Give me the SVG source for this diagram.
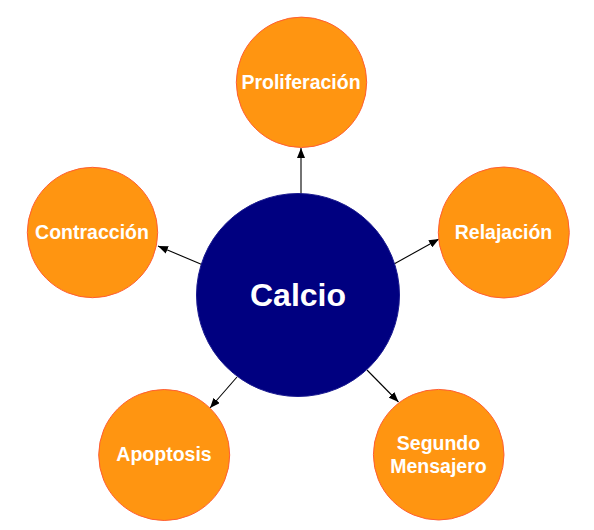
<svg xmlns="http://www.w3.org/2000/svg" width="594" height="530" viewBox="0 0 594 530">
<defs>
<marker id="ah" viewBox="0 0 10 8" refX="10" refY="4" markerWidth="10" markerHeight="8" markerUnits="userSpaceOnUse" orient="auto">
<path d="M0,0 L10,4 L0,8 Z" fill="#000"/>
</marker>
<style>
.sat{fill:#FF9511;stroke:#FF5E33;stroke-width:1}
.hub{fill:#000080;stroke:#1a1a90;stroke-width:1}
.lbl{font-family:"Liberation Sans",Arial,sans-serif;font-weight:bold;fill:#fff;text-anchor:middle;font-size:19.5px}
.big{font-size:32px}
.edge{stroke:#000;stroke-width:1.1;fill:none;marker-end:url(#ah)}
</style>
</defs>
<rect width="594" height="530" fill="#fff"/>
<g id="connectors">
<line class="edge" x1="301" y1="194" x2="301" y2="148"/>
<line class="edge" x1="394" y1="264" x2="439" y2="239"/>
<line class="edge" x1="203" y1="265" x2="158" y2="246"/>
<line class="edge" x1="237" y1="377" x2="210" y2="408"/>
<line class="edge" x1="367" y1="370" x2="398.5" y2="402"/>
</g>
<g id="calcio">
<circle class="hub" cx="298" cy="295" r="101.5"/>
<text class="lbl big" x="298" y="306">Calcio</text>
</g>
<g id="proliferacion">
<circle class="sat" cx="301.5" cy="82.3" r="65.2"/>
<text class="lbl" x="301" y="89">Proliferación</text>
</g>
<g id="relajacion">
<circle class="sat" cx="503.8" cy="232.5" r="65.5"/>
<text class="lbl" x="503.5" y="239">Relajación</text>
</g>
<g id="contraccion">
<circle class="sat" cx="92.5" cy="232.5" r="65.2"/>
<text class="lbl" x="92" y="239">Contracción</text>
</g>
<g id="apoptosis">
<circle class="sat" cx="164.2" cy="455" r="65.5"/>
<text class="lbl" x="164" y="461">Apoptosis</text>
</g>
<g id="segundo">
<circle class="sat" cx="438.7" cy="454.7" r="65.3"/>
<text class="lbl" x="438.5" y="450">Segundo</text>
<text class="lbl" x="438.5" y="472.5">Mensajero</text>
</g>
</svg>
